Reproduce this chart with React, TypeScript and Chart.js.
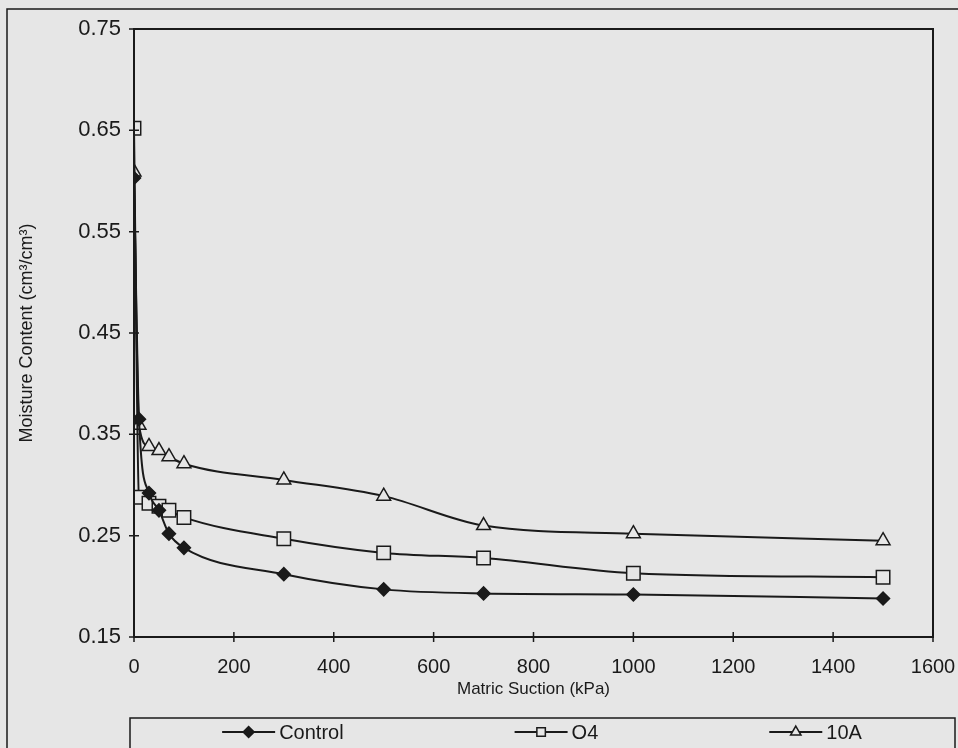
import React, { useEffect, useRef } from 'react';
import { Chart, registerables } from 'chart.js';

Chart.register(...registerables);

// ---- data ----
const suction = [0, 10, 30, 50, 70, 100, 300, 500, 700, 1000, 1500];
const controlValues = [0.603, 0.365, 0.292, 0.275, 0.252, 0.238, 0.212, 0.197, 0.193, 0.192, 0.188];
const o4Values = [0.652, 0.288, 0.282, 0.279, 0.275, 0.268, 0.247, 0.233, 0.228, 0.213, 0.209];
const a10Values = [0.609, 0.359, 0.338, 0.334, 0.328, 0.321, 0.305, 0.289, 0.26, 0.252, 0.245];
const seriesNames = ['Control', 'O4', '10A'];
const xTicks = [0, 200, 400, 600, 800, 1000, 1200, 1400, 1600];
const yTicks = [0.15, 0.25, 0.35, 0.45, 0.55, 0.65, 0.75];
const xTitle = 'Matric Suction (kPa)';
const yTitle = 'Moisture Content (cm\u00B3/cm\u00B3)';

// ---- styles ----
const BG = '#e6e6e6';
const INK = '#1a1a1a';
const FONT = "'Liberation Sans', Arial, sans-serif";

type MarkerStyle = 'rectRot' | 'rect' | 'triangle';
const markerStyles: MarkerStyle[] = ['rectRot', 'rect', 'triangle'];
const markerRadii = [6.5, 9.5, 8];
const markerFills = [INK, BG, BG];
const legendRadii = [5.5, 6, 6];

function drawMarker(ctx: CanvasRenderingContext2D, style: MarkerStyle, x: number, y: number, r: number, fill: string) {
  ctx.beginPath();
  if (style === 'rectRot') {
    ctx.moveTo(x - r, y);
    ctx.lineTo(x, y - r);
    ctx.lineTo(x + r, y);
    ctx.lineTo(x, y + r);
    ctx.closePath();
  } else if (style === 'rect') {
    const s = r * Math.SQRT1_2;
    ctx.rect(x - s, y - s, 2 * s, 2 * s);
  } else {
    const a = (2 * Math.PI) / 3;
    ctx.moveTo(x, y - r);
    ctx.lineTo(x + Math.sin(a) * r, y - Math.cos(a) * r);
    ctx.lineTo(x + Math.sin(2 * a) * r, y - Math.cos(2 * a) * r);
    ctx.closePath();
  }
  ctx.fillStyle = fill;
  ctx.fill();
  ctx.lineWidth = 1.5;
  ctx.strokeStyle = INK;
  ctx.stroke();
}

const backgroundPlugin = {
  id: 'pageBackground',
  beforeDraw(chart: any) {
    const { ctx, width, height } = chart;
    ctx.save();
    ctx.fillStyle = BG;
    ctx.fillRect(0, 0, width, height);
    ctx.restore();
  },
};

const framePlugin = {
  id: 'excelFrame',
  afterDraw(chart: any) {
    const { ctx, chartArea } = chart;
    const { left, right, top, bottom } = chartArea;
    const xs = chart.scales.x;
    const ys = chart.scales.y;
    ctx.save();
    ctx.strokeStyle = INK;
    // outer chart frame
    ctx.lineWidth = 1.5;
    ctx.strokeRect(7, 9, 1000, 1000);
    // plot frame
    ctx.lineWidth = 2;
    ctx.strokeRect(left, top, right - left, bottom - top);
    // crossing tick marks
    ctx.lineWidth = 1.5;
    ctx.beginPath();
    xs.ticks.forEach((t: any) => {
      const px = xs.getPixelForValue(t.value);
      ctx.moveTo(px, bottom - 5);
      ctx.lineTo(px, bottom + 5);
    });
    ys.ticks.forEach((t: any) => {
      const py = ys.getPixelForValue(t.value);
      ctx.moveTo(left - 5, py);
      ctx.lineTo(left + 5, py);
    });
    ctx.stroke();

    // legend box
    const boxLeft = 130;
    const boxTop = 718;
    ctx.lineWidth = 1.5;
    ctx.strokeRect(boxLeft, boxTop, 825, 60);
    ctx.font = `20px ${FONT}`;
    ctx.textBaseline = 'middle';
    ctx.textAlign = 'left';
    const lineLen = 53;
    const textGap = 4;
    const itemGap = 171;
    const widths = chart.data.datasets.map((d: any) => lineLen + textGap + ctx.measureText(d.label).width);
    const total = widths.reduce((a: number, b: number) => a + b, 0) + itemGap * (widths.length - 1);
    let x = 542 - total / 2;
    const y = 732;
    chart.data.datasets.forEach((d: any, i: number) => {
      ctx.beginPath();
      ctx.lineWidth = 2;
      ctx.strokeStyle = INK;
      ctx.moveTo(x, y);
      ctx.lineTo(x + lineLen, y);
      ctx.stroke();
      drawMarker(ctx, markerStyles[i], x + lineLen / 2, y, legendRadii[i], markerFills[i]);
      ctx.fillStyle = INK;
      ctx.fillText(d.label, x + lineLen + textGap, y + 1);
      x += widths[i] + itemGap;
    });
    ctx.restore();
  },
};

const seriesValues = [controlValues, o4Values, a10Values];

export default function App() {
  const ref = useRef<HTMLCanvasElement>(null);

  useEffect(() => {
    if (!ref.current) return;
    const datasets = seriesNames.map((name, i) => ({
      label: name,
      data: suction.map((s, j) => ({ x: s, y: seriesValues[i][j] })),
      borderColor: INK,
      borderWidth: 2,
      backgroundColor: markerFills[i],
      pointStyle: markerStyles[i],
      pointRadius: markerRadii[i],
      pointBorderWidth: 1.5,
      pointBorderColor: INK,
      pointBackgroundColor: markerFills[i],
      cubicInterpolationMode: 'monotone' as const,
      fill: false,
    }));

    const chart = new Chart(ref.current, {
      type: 'line',
      data: { datasets },
      options: {
        responsive: false,
        animation: false,
        events: [],
        layout: { padding: { left: 0, right: 25, top: 29, bottom: 0 } },
        plugins: {
          legend: { display: false },
          tooltip: { enabled: false },
        },
        scales: {
          x: {
            type: 'linear',
            min: 0,
            max: 1600,
            afterBuildTicks: (s: any) => {
              s.ticks = xTicks.map((v) => ({ value: v }));
            },
            afterFit: (s: any) => {
              s.height = 111;
              s.paddingLeft = 0;
              s.paddingRight = 0;
            },
            grid: { display: false, drawTicks: false },
            border: { display: false },
            ticks: {
              padding: 18,
              autoSkip: false,
              maxRotation: 0,
              color: INK,
              font: { family: FONT, size: 20 },
              callback: (v: any) => String(v),
            },
            title: {
              display: true,
              text: xTitle,
              color: INK,
              font: { family: FONT, size: 17 },
              padding: { top: 0, bottom: 48 },
            },
          },
          y: {
            type: 'linear',
            min: 0.15,
            max: 0.75,
            afterBuildTicks: (s: any) => {
              s.ticks = yTicks.map((v) => ({ value: v }));
            },
            afterFit: (s: any) => {
              s.width = 134;
              s.paddingTop = 0;
              s.paddingBottom = 0;
            },
            grid: { display: false, drawTicks: false },
            border: { display: false },
            ticks: {
              padding: 13,
              color: INK,
              font: { family: FONT, size: 22 },
              callback: (v: any) => Number(v).toFixed(2),
            },
            title: {
              display: true,
              text: yTitle,
              color: INK,
              font: { family: FONT, size: 18 },
              padding: { top: 16, bottom: 0 },
            },
          },
        },
      },
      plugins: [backgroundPlugin, framePlugin],
    } as any);

    return () => chart.destroy();
  }, []);

  return (
    <div style={{ position: 'fixed', left: 0, top: 0, width: 958, height: 748, background: BG, overflow: 'hidden' }}>
      <canvas ref={ref} width={958} height={748} style={{ display: 'block' }} />
    </div>
  );
}
